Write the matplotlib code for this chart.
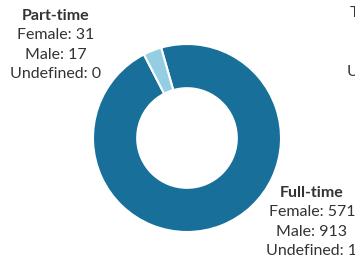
import numpy as np
import matplotlib
matplotlib.use('Agg')
import matplotlib.pyplot as plt

# data
categories = ['Full-time', 'Part-time']
female = [571, 31]
male = [913, 17]
undefined = [1, 0]
colors = ['#186f9a', '#93cee2']

totals = [f + m + u for f, m, u in zip(female, male, undefined)]

W, H = 355, 260
fig = plt.figure(figsize=(W / 100, H / 100), dpi=100)
ax = fig.add_axes([0, 0, 1, 1])

# donut (pixel coordinates, y measured from bottom)
cx, cy, r = 187, H - 138, 94
ax.pie(totals, colors=colors, startangle=106, counterclock=False,
       center=(cx, cy), radius=r, frame=True,
       wedgeprops=dict(width=r * 0.47, edgecolor='white', linewidth=1.5))
ax.set_xlim(0, W)
ax.set_ylim(0, H)
ax.axis('off')

# labels
label_pos = {'Full-time': (312, 193), 'Part-time': (56, 16)}
txt = '#333333'
for i, cat in enumerate(categories):
    x, y = label_pos[cat]
    ax.text(x, H - y, cat, ha='center', va='center', fontsize=11.5,
            fontweight='bold', family='Lato', color=txt)
    lines = ['Female: %d' % female[i], 'Male: %d' % male[i],
             'Undefined: %d' % undefined[i]]
    for k, line in enumerate(lines):
        ax.text(x, H - y - 19.3 * (k + 1), line, ha='center', va='center',
                fontsize=11.5, family='Lato', color=txt)

# cut-off labels of the neighbouring chart
ax.text(350, H - 13, 'T', ha='left', va='center', fontsize=11.5, family='Lato', color=txt)
ax.text(347, H - 72, 'U', ha='left', va='center', fontsize=11.5, family='Lato', color=txt)

fig.savefig('out.png', dpi=100)
